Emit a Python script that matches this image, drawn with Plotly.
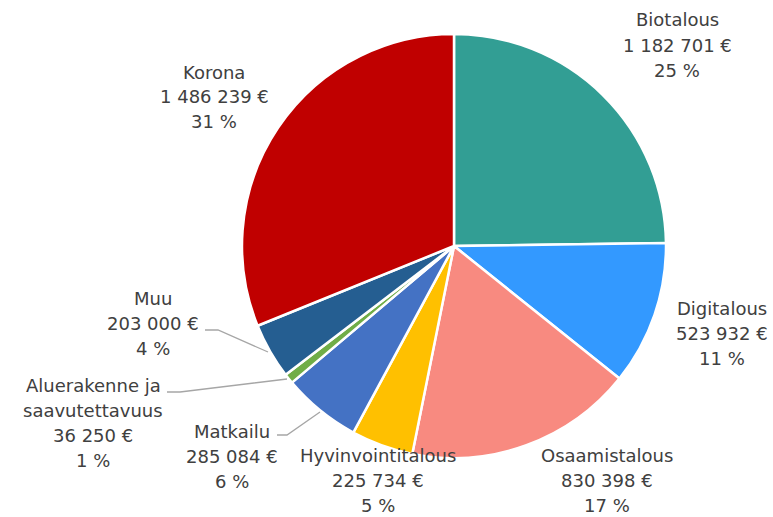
import plotly.graph_objects as go

categories = ["Biotalous", "Digitalous", "Osaamistalous", "Hyvinvointitalous",
              "Matkailu", "Aluerakenne ja saavutettavuus", "Muu", "Korona"]
values = [1182701, 523932, 830398, 225734, 285084, 36250, 203000, 1486239]
colors = ["#329E94", "#3399FF", "#F88A80", "#FFC000", "#4472C4", "#70AD47", "#255E91", "#C00000"]

total = sum(values)

def fmt(v):
    return f"{v:,}".replace(",", " ") + " €"

def pct(v):
    return f"{round(100 * v / total)} %"

W, H = 773, 517

fig = go.Figure(go.Pie(
    labels=categories, values=values, sort=False, direction="clockwise", rotation=0,
    marker=dict(colors=colors, line=dict(color="white", width=2.5)),
    textinfo="none", hoverinfo="label+value+percent", showlegend=False,
    domain=dict(x=[242 / W, 666 / W], y=[(H - 458) / H, (H - 34) / H]),
))

# label layout: (name lines, x center, y of first line) in pixels
label_pos = {
    "Biotalous": (["Biotalous"], 677, 20),
    "Digitalous": (["Digitalous"], 722, 308),
    "Osaamistalous": (["Osaamistalous"], 607, 455),
    "Hyvinvointitalous": (["Hyvinvointitalous"], 378, 455),
    "Matkailu": (["Matkailu"], 232, 431),
    "Aluerakenne ja saavutettavuus": (["Aluerakenne ja", "saavutettavuus"], 93, 385),
    "Muu": (["Muu"], 153, 298),
    "Korona": (["Korona"], 214, 72),
}
line_h = 25
annotations = []
for cat, val in zip(categories, values):
    names, cx, cy = label_pos[cat]
    lines = names + [fmt(val), pct(val)]
    for i, t in enumerate(lines):
        annotations.append(dict(
            text=t, x=cx / W, y=1 - (cy + i * line_h) / H, xref="paper", yref="paper",
            showarrow=False, xanchor="center", yanchor="middle", borderpad=0,
            font=dict(family="DejaVu Sans", size=18, color="#404040"),
        ))

leaders = [
    [(205, 330), (218, 330), (268, 352)],
    [(167, 392), (180, 392), (287, 379)],
    [(277, 435), (287, 435), (320, 412)],
]
shapes = []
for pts in leaders:
    path = "M " + " L ".join(f"{x / W},{1 - y / H}" for x, y in pts)
    shapes.append(dict(type="path", xref="paper", yref="paper", path=path,
                       line=dict(color="#A6A6A6", width=1.3)))

fig.update_layout(
    width=W, height=H, margin=dict(l=0, r=0, t=0, b=0),
    paper_bgcolor="white", plot_bgcolor="white",
    annotations=annotations, shapes=shapes,
)

fig.write_html("out.html", config={"displayModeBar": False},
               post_script="document.body.style.margin='0';document.body.style.overflow='hidden';")
